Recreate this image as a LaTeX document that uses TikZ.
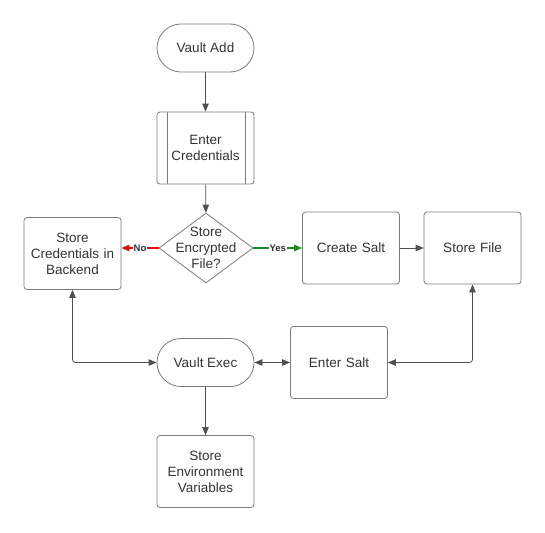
\documentclass[tikz,border=0pt]{standalone}
\usepackage{fontspec}
\setmainfont{Liberation Sans}
\usetikzlibrary{arrows.meta,shapes.geometric,calc}
\definecolor{boxline}{HTML}{7A7A7A}
\definecolor{conn}{HTML}{505050}
\definecolor{txt}{HTML}{333333}
\definecolor{noc}{HTML}{E01010}
\definecolor{yesc}{HTML}{1A8A1A}
\tikzset{
  base/.style={draw=boxline, line width=0.8pt, text=txt, font=\fontsize{13.5}{16}\selectfont, align=center, inner sep=0pt},
  procbox/.style={base, rectangle, rounded corners=3pt, minimum width=97pt, minimum height=72pt, text width=94pt},
  term/.style={base, rectangle, rounded corners=24pt, minimum width=97pt, minimum height=48pt},
  decis/.style={base, diamond, minimum width=94pt, minimum height=70pt},
  conn/.style={draw=conn, line width=0.8pt, -{Triangle[length=8pt,width=6.5pt]}},
  bidir/.style={draw=conn, line width=0.8pt, {Triangle[length=8pt,width=6.5pt]}-{Triangle[length=8pt,width=6.5pt]}, rounded corners=3pt},
  lab/.style={fill=white, inner sep=1pt, font=\bfseries\fontsize{9.5}{11}\selectfont, text=txt},
}
\begin{document}
\begin{tikzpicture}[x=1pt,y=-1pt]
\useasboundingbox (0,0) rectangle (545,532);
\node[term] (va) at (205.5,48) {Vault Add};
\node[procbox] (ec) at (205.5,148) {Enter\\Credentials};
\draw[boxline, line width=0.8pt] ([xshift=11pt]ec.north west) -- ([xshift=11pt]ec.south west);
\draw[boxline, line width=0.8pt] ([xshift=-9pt]ec.north east) -- ([xshift=-9pt]ec.south east);
\node[decis, label={[text=txt, font=\fontsize{13.5}{16}\selectfont, align=center]center:Store\\Encrypted\\File?}] (d) at (206,248) {};
\node[procbox] (sc) at (72.5,253.5) {Store\\Credentials in\\Backend};
\node[procbox] (cs) at (351,248) {Create Salt};
\node[procbox] (sf) at (472.5,248) {Store File};
\node[procbox] (es) at (339,362.5) {Enter Salt};
\node[term] (ve) at (205.5,362.5) {Vault Exec};
\node[procbox] (env) at (205.5,471.5) {Store\\Environment\\Variables};

\draw[conn] (va) -- (ec);
\draw[conn] (ec) -- (d);
\draw[conn, draw=noc, line width=1.3pt, -{Triangle[length=8pt,width=6.5pt,fill=noc]}] (d.west) -- node[lab, pos=0.5] {No} (d.west -| sc.east);
\draw[conn, draw=yesc, line width=1.3pt, -{Triangle[length=8pt,width=6.5pt,fill=yesc]}] (d.east) -- node[lab, pos=0.5] {Yes} (cs.west);
\draw[conn] (cs) -- (sf);
\draw[bidir] (sc.south) |- (ve.west);
\draw[bidir] (sf.south) |- (es.east);
\draw[bidir] (ve.east) -- (es.west);
\draw[conn] (ve) -- (env);
\end{tikzpicture}
\end{document}
